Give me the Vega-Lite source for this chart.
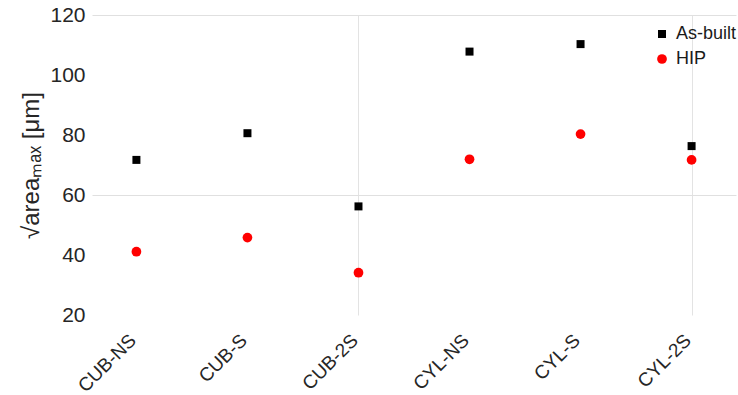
{
  "$schema": "https://vega.github.io/schema/vega-lite/v6.json",
  "width": 644,
  "height": 300,
  "autosize": {"type": "none"},
  "padding": {"left": 92, "top": 15, "right": 2, "bottom": 80},
  "background": "white",
  "config": {
    "view": {"stroke": null},
    "font": "Liberation Sans"
  },
  "data": {
    "values": [
      {"specimen": "CUB-NS", "condition": "As-built", "value": 71.7},
      {"specimen": "CUB-S", "condition": "As-built", "value": 80.6},
      {"specimen": "CUB-2S", "condition": "As-built", "value": 56.2},
      {"specimen": "CYL-NS", "condition": "As-built", "value": 107.8},
      {"specimen": "CYL-S", "condition": "As-built", "value": 110.3},
      {"specimen": "CYL-2S", "condition": "As-built", "value": 76.3},
      {"specimen": "CUB-NS", "condition": "HIP", "value": 41.1},
      {"specimen": "CUB-S", "condition": "HIP", "value": 45.8},
      {"specimen": "CUB-2S", "condition": "HIP", "value": 34.1},
      {"specimen": "CYL-NS", "condition": "HIP", "value": 71.9},
      {"specimen": "CYL-S", "condition": "HIP", "value": 80.3},
      {"specimen": "CYL-2S", "condition": "HIP", "value": 71.7}
    ]
  },
  "mark": {"type": "point", "filled": true, "opacity": 1},
  "encoding": {
    "x": {
      "field": "specimen",
      "type": "nominal",
      "sort": ["CUB-NS", "CUB-S", "CUB-2S", "CYL-NS", "CYL-S", "CYL-2S"],
      "scale": {"type": "point", "padding": 0.4},
      "axis": {
        "title": null,
        "labelAngle": -45,
        "labelAlign": "right",
        "labelBaseline": "middle",
        "labelFontSize": 19,
        "labelColor": "#262626",
        "labelPadding": 22,
        "labelOffset": -4,
        "domain": false,
        "tickSize": 0,
        "grid": true,
        "gridColor": {"condition": {"test": "datum.value == 'CUB-2S' || datum.value == 'CYL-2S'", "value": "#e3e3e3"}, "value": "transparent"}
      }
    },
    "y": {
      "field": "value",
      "type": "quantitative",
      "scale": {"domain": [20, 120], "nice": false, "zero": false},
      "axis": {
        "title": "√areaₘₐₓ [μm]",
        "titleFontSize": 24,
        "titleFontWeight": "normal",
        "titleColor": "#262626",
        "titlePadding": 6,
        "values": [20, 40, 60, 80, 100, 120],
        "labelFontSize": 21,
        "labelFont": "Liberation Sans",
        "labelColor": "#262626",
        "labelPadding": 7,
        "domain": false,
        "ticks": false,
        "grid": true,
        "gridColor": {"condition": {"test": "datum.value == 60 || datum.value == 120", "value": "#e0e0e0"}, "value": "transparent"}
      }
    },
    "color": {
      "field": "condition",
      "type": "nominal",
      "scale": {"domain": ["As-built", "HIP"], "range": ["#000000", "#ff0000"]},
      "legend": {
        "title": null,
        "orient": "none",
        "legendX": 561,
        "legendY": 10,
        "labelFontSize": 18,
        "labelColor": "#1a1a1a",
        "rowPadding": 7,
        "labelOffset": 5
      }
    },
    "shape": {
      "field": "condition",
      "type": "nominal",
      "scale": {"domain": ["As-built", "HIP"], "range": ["square", "circle"]}
    },
    "size": {
      "field": "condition",
      "type": "nominal",
      "scale": {"domain": ["As-built", "HIP"], "range": [64, 95]}
    }
  }
}
